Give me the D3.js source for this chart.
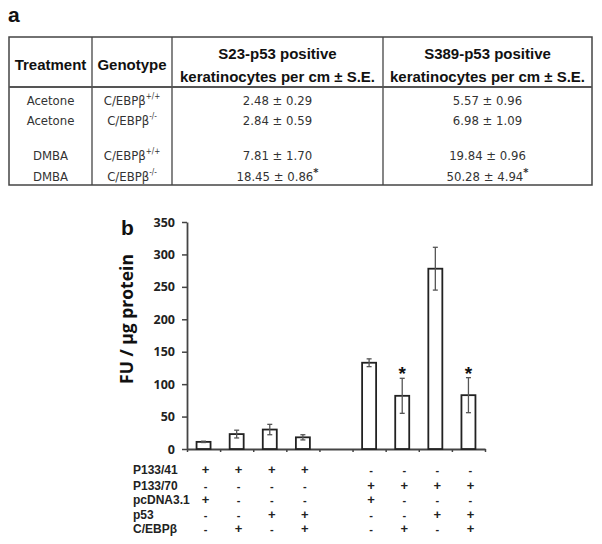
<!DOCTYPE html>
<html>
<head>
<meta charset="utf-8">
<script src="https://d3js.org/d3.v7.min.js"></script>
<style>
body { margin: 0; background: #fff; }
text { fill: #111; }
.hdr { font-family: "Liberation Sans", Arial, sans-serif; font-weight: bold; font-size: 15px; }
.cell { font-family: "Liberation Sans Narrow", "DejaVu Sans Condensed", sans-serif; font-size: 13px; fill: #333; }
.tick text { font-family: "Open Sans", sans-serif; font-weight: 700; font-size: 12.5px; fill: #222; }
.lbl { font-family: "Liberation Sans", Arial, sans-serif; font-weight: bold; font-size: 12px; fill: #222; }
</style>
</head>
<body>
<svg width="602" height="544"></svg>
<script>
// ---- table (panel a)
var treatments = ["Acetone", "Acetone", "DMBA", "DMBA"];
var genotypes = ["+/+", "-/-", "+/+", "-/-"];
var s23 = ["2.48 ± 0.29", "2.84 ± 0.59", "7.81 ± 1.70", "18.45 ± 0.86"];
var s389 = ["5.57 ± 0.96", "6.98 ± 1.09", "19.84 ± 0.96", "50.28 ± 4.94"];
var significant = [false, false, false, true];

// ---- bar chart (panel b)
var groups = ["g1", "g2", "g3", "g4", "gap", "g6", "g7", "g8", "g9"];
var values = [11, 23, 30, 18, null, 133, 82, 278, 83];
var errors = [1, 6, 8, 4, null, 6, 27, 33, 27];
var stars = [false, false, false, false, false, false, true, false, true];
var yTicks = [0, 50, 100, 150, 200, 250, 300, 350];
var rowNames = ["P133/41", "P133/70", "pcDNA3.1", "p53", "C/EBPβ"];
var P133_41 = ["+", "+", "+", "+", null, "-", "-", "-", "-"];
var P133_70 = ["-", "-", "-", "-", null, "+", "+", "+", "+"];
var pcDNA = ["+", "-", "-", "-", null, "+", "-", "-", "-"];
var p53 = ["-", "-", "+", "+", null, "-", "-", "+", "+"];
var cebp = ["-", "+", "-", "+", null, "-", "+", "-", "+"];

var svg = d3.select("svg");

// panel letters
svg.append("text").attr("x", 8).attr("y", 22)
  .style("font-family", "Liberation Sans, Arial, sans-serif").style("font-weight", "bold").style("font-size", "21px")
  .text("a");
svg.append("text").attr("x", 121).attr("y", 235)
  .style("font-family", "Liberation Sans, Arial, sans-serif").style("font-weight", "bold").style("font-size", "21px")
  .text("b");

// table grid
var tbl = svg.append("g");
var colX = [9, 92, 172, 383, 592];
var tblTop = 37, tblBot = 185, hdrY = 87;
tbl.append("rect").attr("x", colX[0]).attr("y", tblTop).attr("width", colX[4] - colX[0]).attr("height", tblBot - tblTop)
  .attr("fill", "none").attr("stroke", "#444").attr("stroke-width", 1.5);
colX.slice(1, 4).forEach(function(x) {
  tbl.append("line").attr("x1", x).attr("x2", x).attr("y1", tblTop).attr("y2", tblBot)
    .attr("stroke", "#444").attr("stroke-width", 1.3);
});
tbl.append("line").attr("x1", colX[0]).attr("x2", colX[4]).attr("y1", hdrY).attr("y2", hdrY)
  .attr("stroke", "#555").attr("stroke-width", 2.2);

function mid(i) { return (colX[i] + colX[i + 1]) / 2; }

tbl.append("text").attr("class", "hdr").attr("x", mid(0)).attr("y", 70).attr("text-anchor", "middle").text("Treatment");
tbl.append("text").attr("class", "hdr").attr("x", mid(1)).attr("y", 70).attr("text-anchor", "middle").text("Genotype");
tbl.append("text").attr("class", "hdr").attr("x", mid(2)).attr("y", 59).attr("text-anchor", "middle").text("S23-p53 positive");
tbl.append("text").attr("class", "hdr").attr("x", mid(2)).attr("y", 82).attr("text-anchor", "middle").text("keratinocytes per cm ± S.E.");
tbl.append("text").attr("class", "hdr").attr("x", mid(3)).attr("y", 59).attr("text-anchor", "middle").text("S389-p53 positive");
tbl.append("text").attr("class", "hdr").attr("x", mid(3)).attr("y", 82).attr("text-anchor", "middle").text("keratinocytes per cm ± S.E.");

var rowY = [105, 125, 160, 181];
treatments.forEach(function(t, i) {
  tbl.append("text").attr("class", "cell").attr("x", mid(0)).attr("y", rowY[i]).attr("text-anchor", "middle").text(t);
  var g = tbl.append("text").attr("class", "cell").attr("x", mid(1)).attr("y", rowY[i]).attr("text-anchor", "middle");
  g.append("tspan").text("C/EBPβ");
  g.append("tspan").attr("dy", -6).style("font-size", "8px").text(genotypes[i]);
  [s23, s389].forEach(function(col, k) {
    var c = tbl.append("text").attr("class", "cell").attr("x", mid(2 + k)).attr("y", rowY[i]).attr("text-anchor", "middle");
    c.append("tspan").text(col[i]);
    if (significant[i]) c.append("tspan").attr("dy", -5).style("font-size", "11px").style("font-weight", "bold").text("*");
  });
});

// ---- chart
var y = d3.scaleLinear().domain([0, 350]).range([449, 222]);
var x = d3.scaleBand().domain(groups).range([187, 485]).padding(0);
var xi = d3.scaleLinear().domain([0, groups.length]).range([187, 485]);
var bw = 14;

var yAxis = svg.append("g").attr("transform", "translate(187,0)")
  .call(d3.axisLeft(y).tickValues(yTicks).tickSize(5).tickPadding(7).tickSizeOuter(0));
var xAxis = svg.append("g").attr("transform", "translate(0,449)")
  .call(d3.axisBottom(xi).ticks(groups.length).tickFormat("").tickSize(3).tickSizeOuter(0));
[yAxis, xAxis].forEach(function(a) {
  a.select(".domain").attr("stroke", "#444").attr("stroke-width", 1.8);
  a.selectAll(".tick line").attr("stroke", "#444").attr("stroke-width", 1.5);
});

var data = groups.map(function(g, i) { return {g: g, v: values[i], e: errors[i], s: stars[i]}; })
  .filter(function(d) { return d.v !== null; });

svg.append("g").selectAll("rect").data(data).enter().append("rect")
  .attr("x", function(d) { return x(d.g) + x.bandwidth() / 2 - bw / 2; })
  .attr("y", function(d) { return y(d.v); })
  .attr("width", bw)
  .attr("height", function(d) { return y(0) - y(d.v); })
  .attr("fill", "#fff").attr("stroke", "#222").attr("stroke-width", 1.8);

var eb = svg.append("g").selectAll("g").data(data).enter().append("g")
  .attr("transform", function(d) { return "translate(" + (x(d.g) + x.bandwidth() / 2) + ",0)"; });
eb.append("line").attr("x1", 0).attr("x2", 0)
  .attr("y1", function(d) { return y(d.v - d.e); })
  .attr("y2", function(d) { return y(d.v + d.e); })
  .attr("stroke", "#555").attr("stroke-width", 1.3);
[-1, 1].forEach(function(sgn) {
  eb.append("line").attr("x1", -2.5).attr("x2", 2.5)
    .attr("y1", function(d) { return y(d.v + sgn * d.e); })
    .attr("y2", function(d) { return y(d.v + sgn * d.e); })
    .attr("stroke", "#555").attr("stroke-width", 1.3);
});
eb.filter(function(d) { return d.s; }).append("text")
  .attr("text-anchor", "middle")
  .attr("y", function(d) { return y(d.v + d.e) + 2; })
  .style("font-family", "Liberation Sans, Arial, sans-serif").style("font-size", "19px").style("font-weight", "bold")
  .text("*");

svg.append("text").attr("transform", "translate(133,319) rotate(-90)")
  .attr("text-anchor", "middle")
  .style("font-family", "Open Sans, sans-serif").style("font-weight", "700").style("font-size", "17.5px")
  .text("FU / μg protein");

// condition rows
var rows = [P133_41, P133_70, pcDNA, p53, cebp];
var rowLY = [474, 490, 504, 519, 533];
rows.forEach(function(r, k) {
  svg.append("text").attr("class", "lbl").attr("x", 133).attr("y", rowLY[k]).text(rowNames[k]);
  r.forEach(function(m, i) {
    if (m === null) return;
    svg.append("text").attr("class", "lbl")
      .attr("x", x(groups[i]) + x.bandwidth() / 2 + 2).attr("y", rowLY[k])
      .attr("text-anchor", "middle")
      .style("font-size", m === "+" ? "13px" : "11px")
      .text(m);
  });
});
</script>
</body>
</html>
